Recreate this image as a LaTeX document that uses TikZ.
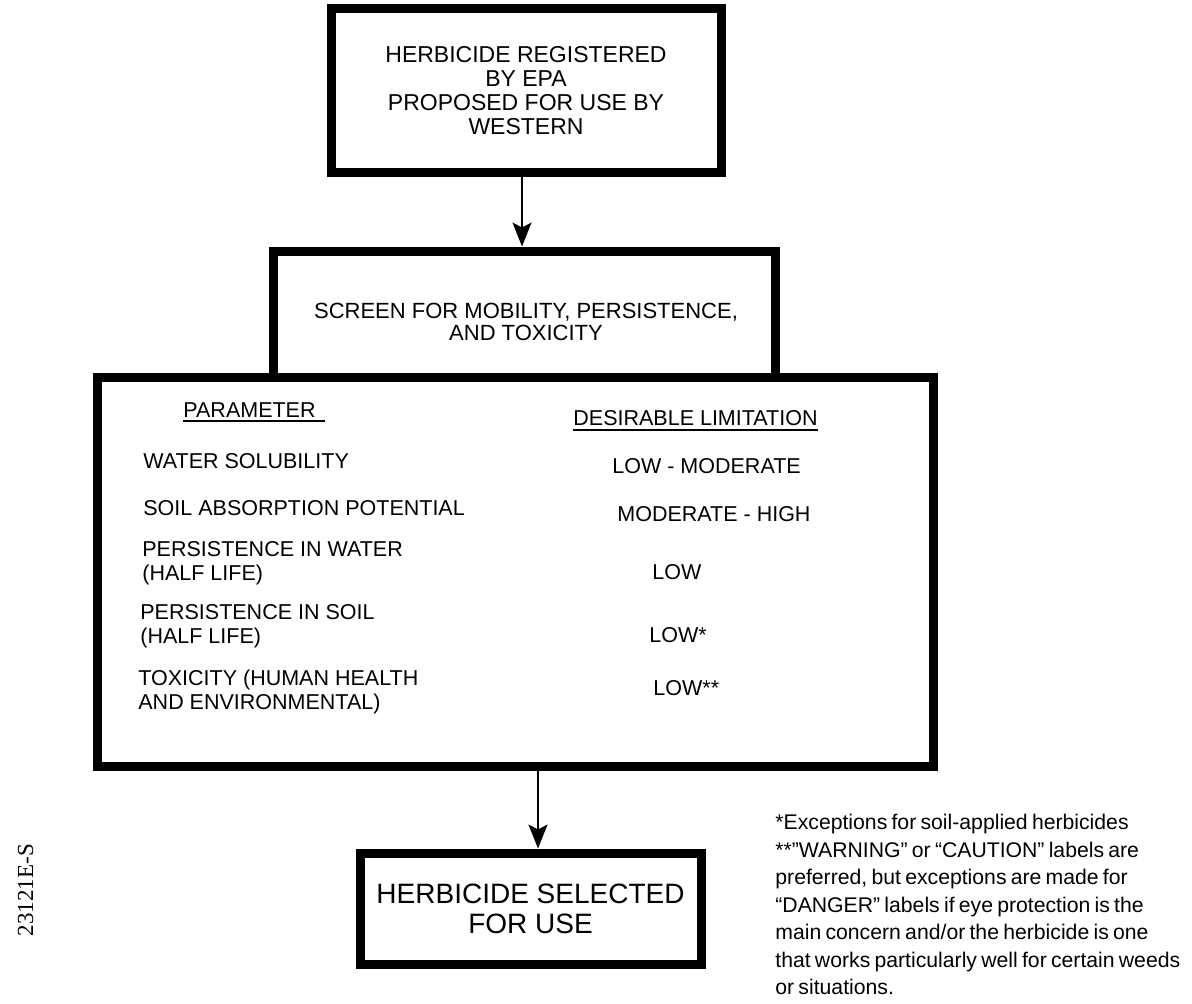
\documentclass[tikz,border=0pt]{standalone}
\usepackage{fontspec}
\setmainfont{Liberation Sans}
\newfontfamily\stampfont{Liberation Serif}
\newcommand\notefont{\fontsize{10.6}{13.75}\selectfont\spaceskip=0.2em\relax}
\usetikzlibrary{arrows.meta,positioning}

\begin{document}
\begin{tikzpicture}[x=0.5pt,y=-0.5pt,
    box/.style={draw,line width=4.5pt,inner sep=0pt,align=center},
    flow/.style={-{Stealth[length=12pt,width=9.5pt,inset=2.5pt]},line width=0.6pt},
    cell/.style={anchor=west,align=left,inner sep=0pt,font=\fontsize{10.75}{12}\selectfont},
    rule/.style={line width=1pt}]
  \useasboundingbox (0,0) rectangle (1192,1003);
  % boxes
  \node[box,minimum width=195pt,minimum height=81.75pt,font=\fontsize{11.5}{12}\selectfont] (reg) at (526,90.25)
    {HERBICIDE REGISTERED\\BY EPA\\PROPOSED FOR USE BY\\WESTERN};
  \node[box,minimum width=251pt,minimum height=63.25pt] (screen) at (524.5,314.25) {};
  \node[inner sep=0pt,align=center,font=\fontsize{11}{11}\selectfont] (screentxt) at (526,322)
    {SCREEN FOR MOBILITY, PERSISTENCE,\\AND TOXICITY};
  \node[box,minimum width=418pt,minimum height=194.25pt] (crit) at (515,571.75) {};
  \node[box,minimum width=170.5pt,minimum height=55.75pt,font=\fontsize{14}{15}\selectfont] (sel) at (530.5,908.75)
    {HERBICIDE SELECTED\\FOR USE};
  % table
  \node[cell] (hpar) at (183,410.5) {PARAMETER};
  \node[cell] (hlim) at (573,418.5) {DESIRABLE LIMITATION};
  \draw[rule] ([yshift=-1.5pt]hpar.south west) -- ([xshift=4.5pt,yshift=-1.5pt]hpar.south east);
  \draw[rule] ([yshift=-1.5pt]hlim.south west) -- ([yshift=-1.5pt]hlim.south east);
  \node[cell] (par1) at (143,461.5) {WATER SOLUBILITY};
  \node[cell] (par2) at (143,508) {SOIL ABSORPTION POTENTIAL};
  \node[cell] (par3) at (142,562.75) {PERSISTENCE IN WATER\\(HALF LIFE)};
  \node[cell] (par4) at (140,625.75) {PERSISTENCE IN SOIL\\(HALF LIFE)};
  \node[cell] (par5) at (138,692.25) {TOXICITY (HUMAN HEALTH\\AND ENVIRONMENTAL)};
  \node[cell] (lim1) at (612,466) {LOW - MODERATE};
  \node[cell] (lim2) at (617,514) {MODERATE - HIGH};
  \node[cell] (lim3) at (652,572) {LOW};
  \node[cell] (lim4) at (649,635) {LOW*};
  \node[cell] (lim5) at (653,688) {LOW**};
  % arrows
  \draw[flow] ([xshift=-2pt]reg.south) -- ([xshift=-2pt]reg.south |- screen.north);
  \draw[flow] ([xshift=3.75pt]sel.north |- crit.south) -- ([xshift=3.75pt]sel.north);
  % notes
  \node[anchor=north west,align=left,inner sep=0pt,font=\notefont] (note) at (775,814)
    {*Exceptions for soil-applied herbicides\\
     **”WARNING” or “CAUTION” labels are\\
     preferred, but exceptions are made for\\
     “DANGER” labels if eye protection is the\\
     main concern and/or the herbicide is one\\
     that works particularly well for certain weeds\\
     or situations.};
  \node[rotate=90,inner sep=0pt,font=\stampfont\fontsize{11.5}{12}\selectfont] (code) at (25.5,890) {23121E-S};
\end{tikzpicture}
\end{document}
